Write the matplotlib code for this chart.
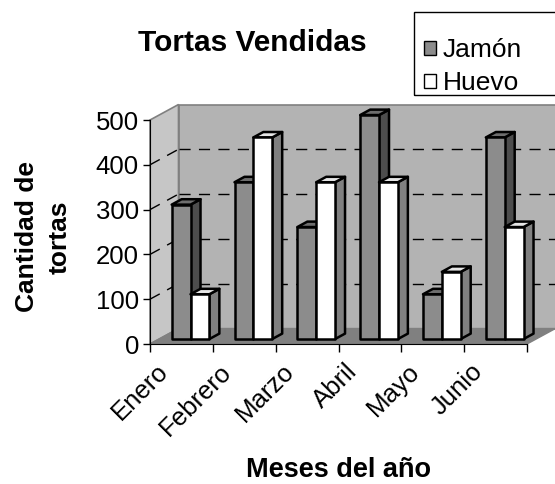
import matplotlib.pyplot as plt
from matplotlib.patches import Polygon, Patch, Rectangle

plt.rcParams['font.family'] = ['Liberation Sans', 'DejaVu Sans']

# Datos de ventas
meses = ['Enero', 'Febrero', 'Marzo', 'Abril', 'Mayo', 'Junio']
jamon = [300, 350, 250, 500, 100, 450]
huevo = [100, 450, 350, 350, 150, 250]
series = ['Jamón', 'Huevo']
ticks_y = [0, 100, 200, 300, 400, 500]

# colores de cada serie: frente, lado, tapa
col_jamon = ('#8c8c8c', '#4d4d4d', '#6e6e6e')
col_huevo = ('#ffffff', '#808080', '#e6e6e6')

fig = plt.figure(figsize=(5.55, 4.84), dpi=100)
ax = fig.add_axes([150 / 555, 140 / 484, 377 / 555, 224 / 484])
ax.set_xlim(0, len(meses))
ax.set_ylim(0, 500)
ax.patch.set_visible(False)

# profundidad del efecto 3D en unidades de datos
DX = 28.5 / (377 / 6)
DY = 15.5 / (224 / 500)
n = len(meses)
ymax = ticks_y[-1]

# paredes y piso
pared_fondo = Polygon([(DX, DY), (n + DX, DY), (n + DX, ymax + DY), (DX, ymax + DY)],
                      fc='#b3b3b3', ec='#808080', lw=1.2, clip_on=False, zorder=0)
pared_izq = Polygon([(0, 0), (DX, DY), (DX, ymax + DY), (0, ymax)],
                    fc='#c6c6c6', ec='#808080', lw=1.2, clip_on=False, zorder=0)
piso = Polygon([(0, 0), (n, 0), (n + DX, DY), (DX, DY)],
               fc='#808080', ec='#808080', lw=1, clip_on=False, zorder=1)
for p in (pared_fondo, pared_izq, piso):
    ax.add_patch(p)

# lineas de division punteadas
for v in ticks_y[1:-1]:
    ax.plot([DX, n + DX], [v + DY, v + DY], color='black', lw=1,
            dashes=(8, 6), clip_on=False, zorder=0.5)
    ax.plot([0, DX], [v, v + DY], color='black', lw=1,
            dashes=(8, 6), clip_on=False, zorder=0.5)

# barras en 3D
off, w = 0.2, 0.3
d0, d1 = 0.32, 0.67


def barra(x0, valor, colores, z):
    x1 = x0 + w
    fa = [(x0 + d0 * DX, d0 * DY), (x1 + d0 * DX, d0 * DY),
          (x1 + d0 * DX, valor + d0 * DY), (x0 + d0 * DX, valor + d0 * DY)]
    lado = [(x1 + d0 * DX, d0 * DY), (x1 + d1 * DX, d1 * DY),
            (x1 + d1 * DX, valor + d1 * DY), (x1 + d0 * DX, valor + d0 * DY)]
    tapa = [(x0 + d0 * DX, valor + d0 * DY), (x1 + d0 * DX, valor + d0 * DY),
            (x1 + d1 * DX, valor + d1 * DY), (x0 + d1 * DX, valor + d1 * DY)]
    for pts, c in ((lado, colores[1]), (tapa, colores[2]), (fa, colores[0])):
        ax.add_patch(Polygon(pts, fc=c, ec='black', lw=1.8, joinstyle='round',
                             clip_on=False, zorder=z))


for i in range(n):
    barra(i + off, jamon[i], col_jamon, 2 + i * 0.1)
    barra(i + off + w, huevo[i], col_huevo, 2.05 + i * 0.1)

# ejes
for s in ('top', 'right'):
    ax.spines[s].set_visible(False)
ax.spines['left'].set_color('black')
ax.spines['bottom'].set_color('black')
ax.spines['left'].set_zorder(3)
ax.spines['bottom'].set_zorder(3)
ax.set_yticks(ticks_y)
ax.tick_params(axis='y', direction='out', length=5, width=1, pad=3, labelsize=18.5)
ax.set_xticks(range(n + 1))
ax.set_xticklabels([])
ax.tick_params(axis='x', which='major', direction='out', length=6, width=1)
ax.set_xticks([i + 0.1 for i in range(n)], minor=True)
ax.set_xticklabels(meses, minor=True, rotation=45, ha='right', va='top',
                   rotation_mode='anchor', fontsize=18.5)
ax.tick_params(axis='x', which='minor', length=0, pad=11)

# titulos
fig.text(252 / 555, 1 - 43 / 484, 'Tortas Vendidas', ha='center', va='center',
         fontsize=21.5, fontweight='bold')
fig.text(43 / 555, 1 - 237 / 484, 'Cantidad de\ntortas', ha='center', va='center',
         rotation=90, multialignment='center', fontsize=19, fontweight='bold',
         linespacing=1.45)
fig.text(338 / 555, 1 - 470 / 484, 'Meses del año', ha='center', va='center',
         fontsize=19.5, fontweight='bold')

# leyenda
handles = [Patch(fc=col_jamon[0], ec='black', lw=1), Patch(fc=col_huevo[0], ec='black', lw=1)]
fig.legend(handles, series, loc='upper left', bbox_to_anchor=(424 / 555, 1 - 38 / 484),
           frameon=False, fontsize=19, handlelength=0.45, handleheight=0.45,
           handletextpad=0.25, labelspacing=0.35, borderpad=0, borderaxespad=0)
fig.add_artist(Rectangle((414 / 555, 1 - 95 / 484), 0.4, 83 / 484, fill=False,
                         ec='black', lw=1, transform=fig.transFigure))

fig.savefig('out.png', dpi=100, facecolor='white')
